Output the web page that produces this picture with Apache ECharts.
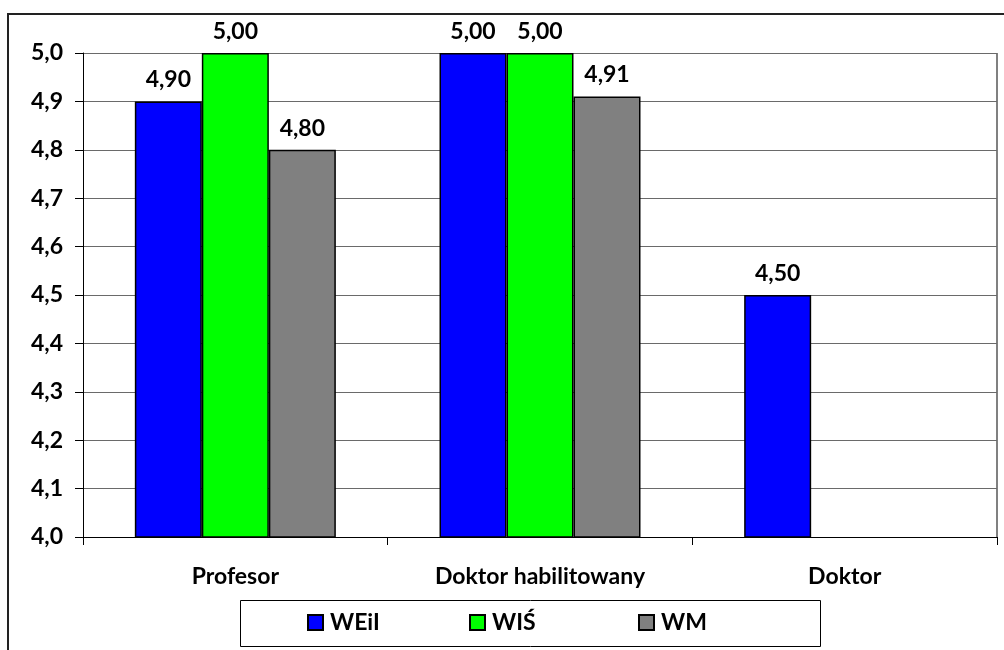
<!DOCTYPE html>
<html>
<head>
<meta charset="utf-8">
<script src="https://cdn.jsdelivr.net/npm/echarts@6/dist/echarts.min.js"></script>
<style>
  html, body { margin: 0; padding: 0; background: #fff; }
  #container { width: 1004px; height: 650px; }
</style>
</head>
<body>
<div id="container"></div>
<script>
const categories = ['Profesor', 'Doktor habilitowany', 'Doktor'];
const seriesNames = ['WEiI', 'WIŚ', 'WM'];
const seriesColors = ['#0000ff', '#00ff00', '#808080'];
const weii = [4.90, 5.00, 4.50];
const wis = [5.00, 5.00, null];
const wm = [4.80, 4.91, null];
const values = [weii, wis, wm];

const font = 'Lato, "Open Sans", sans-serif';
const fs = 23;
const comma = (v, d) => v.toFixed(d).replace('.', ',');

const chart = echarts.init(document.getElementById('container'));

const legendX = [307, 469, 638];

const option = {
  animation: false,
  textStyle: { fontFamily: font },
  grid: { left: 83, right: 7, top: 53, bottom: 113 },
  xAxis: {
    type: 'category',
    data: categories,
    axisLine: { lineStyle: { color: '#000', width: 1 } },
    axisTick: { show: true, length: 8, lineStyle: { color: '#000' } },
    axisLabel: { margin: 28, color: '#000', fontWeight: 'bold', fontSize: fs, fontFamily: font },
    splitLine: { show: false }
  },
  yAxis: {
    type: 'value',
    min: 4.0,
    max: 5.0,
    interval: 0.1,
    axisLine: { show: true, lineStyle: { color: '#000', width: 1 } },
    axisTick: { show: true, length: 8, lineStyle: { color: '#000' } },
    axisLabel: {
      margin: 20, color: '#000', fontWeight: 'bold', fontSize: fs, fontFamily: font,
      formatter: v => comma(v, 1)
    },
    splitLine: { show: true, lineStyle: { color: '#6a6a6a', width: 1 } }
  },
  legend: seriesNames.map((n, i) => ({
    data: [n],
    left: legendX[i],
    top: 611,
    padding: 0,
    itemWidth: 15,
    itemHeight: 15,
    itemGap: 0,
    icon: 'rect',
    textStyle: { color: '#000', fontWeight: 'bold', fontSize: fs, fontFamily: font, padding: [0, 0, 0, 2] }
  })),
  graphic: [
    {
      type: 'rect',
      shape: { x: 8, y: 14, width: 1100, height: 700 },
      style: { fill: 'none', stroke: '#222', lineWidth: 2 },
      silent: true
    },
    {
      type: 'line',
      shape: { x1: 997, y1: 53, x2: 997, y2: 537 },
      style: { stroke: '#808080', lineWidth: 2 },
      silent: true
    },
    {
      type: 'rect',
      shape: { x: 240.5, y: 600.5, width: 580, height: 46 },
      style: { fill: 'none', stroke: '#000', lineWidth: 1 },
      silent: true
    }
  ],
  series: seriesNames.map((n, i) => ({
    name: n,
    type: 'bar',
    data: values[i],
    barWidth: 67,
    barGap: '0%',
    barCategoryGap: '34%',
    itemStyle: { color: seriesColors[i], borderColor: '#000', borderWidth: 1.5 },
    label: {
      show: true,
      position: 'top',
      distance: 10,
      color: '#000',
      fontWeight: 'bold',
      fontSize: fs,
      fontFamily: font,
      formatter: p => comma(p.value, 2)
    }
  }))
};

chart.setOption(option);
</script>
</body>
</html>
